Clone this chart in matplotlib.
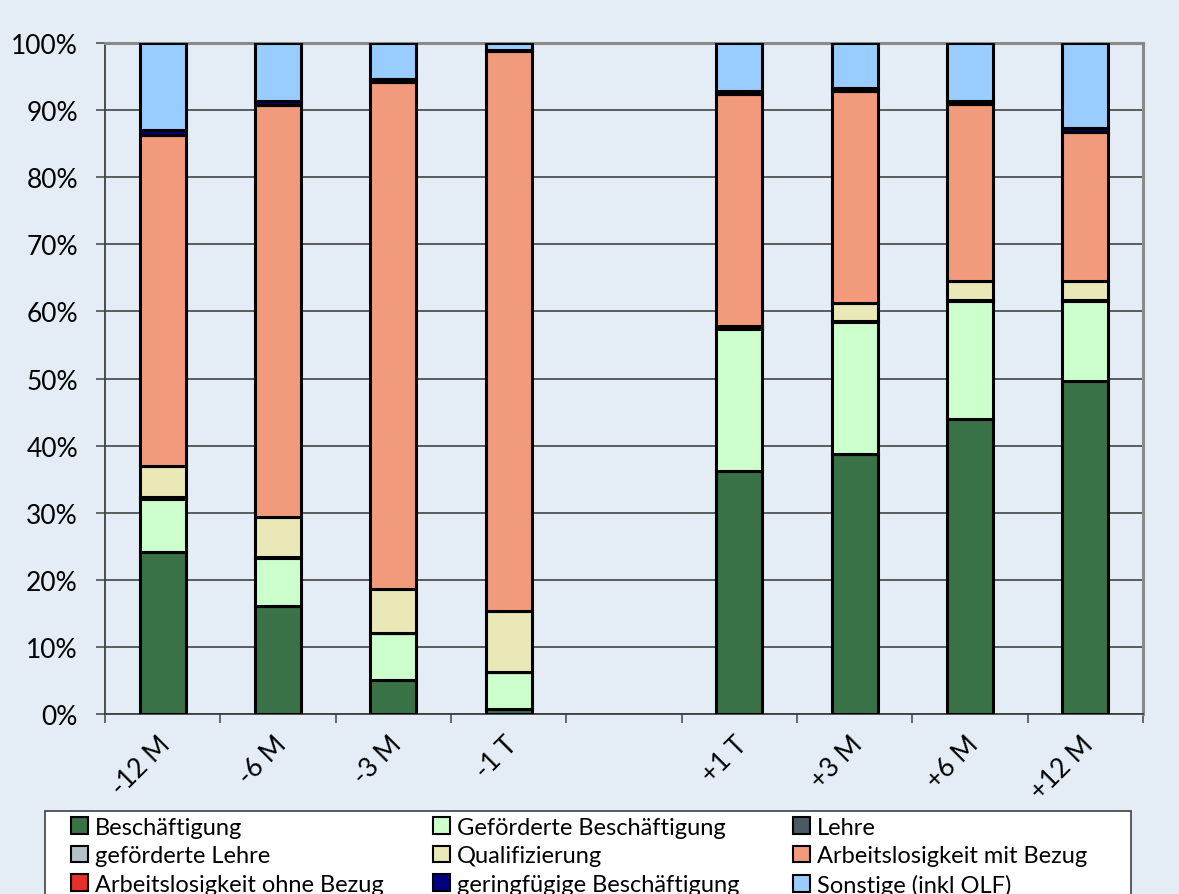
import numpy as np
import matplotlib
matplotlib.use("Agg")
import matplotlib.pyplot as plt
from matplotlib.ticker import FuncFormatter, FixedLocator
from matplotlib.patches import Rectangle, Patch
from matplotlib.transforms import ScaledTranslation

plt.rcParams['font.family'] = ['Lato', 'DejaVu Sans']

# time points, the empty slot separates before/after
perioden = ['-12 M', '-6 M', '-3 M', '-1 T', '', '+1 T', '+3 M', '+6 M', '+12 M']

# shares in percent per status
beschaeftigung = [24.1, 16.1, 5.0, 0.7, np.nan, 36.2, 38.7, 43.9, 49.6]
gef_beschaeftigung = [8.0, 7.2, 7.0, 5.5, np.nan, 21.2, 19.7, 17.7, 12.0]
lehre = [0.2, 0.1, 0.1, 0.0, np.nan, 0.1, 0.1, 0.1, 0.1]
gef_lehre = [0.0, 0.0, 0.0, 0.0, np.nan, 0.0, 0.0, 0.0, 0.0]
qualifizierung = [4.7, 6.0, 6.5, 9.1, np.nan, 0.3, 2.7, 2.9, 2.8]
al_mit_bezug = [49.3, 61.4, 75.6, 83.5, np.nan, 34.6, 31.6, 26.3, 22.3]
al_ohne_bezug = [0.0, 0.0, 0.0, 0.0, np.nan, 0.0, 0.0, 0.0, 0.0]
geringfuegig = [0.7, 0.6, 0.5, 0.2, np.nan, 0.5, 0.5, 0.5, 0.6]
sonstige = [13.0, 8.6, 5.3, 1.0, np.nan, 7.1, 6.7, 8.6, 12.6]

serien = [
    ('Beschäftigung', beschaeftigung, '#3a7248'),
    ('Geförderte Beschäftigung', gef_beschaeftigung, '#ccffcc'),
    ('Lehre', lehre, '#4a5a62'),
    ('geförderte Lehre', gef_lehre, '#b4c0c8'),
    ('Qualifizierung', qualifizierung, '#e9e8b6'),
    ('Arbeitslosigkeit mit Bezug', al_mit_bezug, '#f29b7c'),
    ('Arbeitslosigkeit ohne Bezug', al_ohne_bezug, '#e8302a'),
    ('geringfügige Beschäftigung', geringfuegig, '#000080'),
    ('Sonstige (inkl OLF)', sonstige, '#99ccff'),
]

bg = '#e4edf5'
fig = plt.figure(figsize=(11.79, 8.95), dpi=100, facecolor=bg)
ax = fig.add_axes([0.0891, 0.2011, 0.8804, 0.7497])
ax.set_facecolor(bg)

x = np.arange(len(perioden))
unten = np.zeros(len(perioden))
for name, werte, farbe in serien:
    werte = np.array(werte, dtype=float)
    ax.bar(x, werte, 0.4, bottom=unten, color=farbe, edgecolor='black',
           linewidth=2.2, zorder=3)
    unten = unten + werte

ax.set_xlim(-0.5, len(perioden) - 0.5)
ax.set_ylim(0, 100)
ax.yaxis.set_major_locator(FixedLocator(np.arange(0, 101, 10)))
ax.yaxis.set_major_formatter(FuncFormatter(lambda v, p: f'{v:.0f}%'))
ax.grid(axis='y', color='#505050', linewidth=1.3, zorder=0)
ax.tick_params(axis='y', labelsize=19, length=6.5, width=1.2, color='#505050', pad=13)

# category labels centred, tick marks between categories
ax.set_xticks(x)
ax.set_xticklabels(perioden, rotation=45, ha='right', va='center',
                   rotation_mode='anchor', fontsize=19)
ax.tick_params(axis='x', which='major', length=0, pad=19)
verschub = ScaledTranslation(4 / 100, 0, fig.dpi_scale_trans)
for lbl in ax.get_xticklabels():
    lbl.set_transform(lbl.get_transform() + verschub)
ax.set_xticks(np.arange(-0.5, len(perioden)), minor=True)
ax.tick_params(axis='x', which='minor', length=6.5, width=1.2, color='#505050')

for s in ['left', 'bottom']:
    ax.spines[s].set_color('#404040')
    ax.spines[s].set_linewidth(1.3)
for s in ['top', 'right']:
    ax.spines[s].set_color('#8a8a8a')
    ax.spines[s].set_linewidth(2.2)

# legend box with three columns, filled row by row
fig.patches.append(Rectangle((45 / 1179, -0.05), 1086 / 1179, 0.05 + 83 / 895,
                             transform=fig.transFigure, facecolor='white',
                             edgecolor='#404040', linewidth=1.2, zorder=1))
spalten_x = [66 / 1179, 428 / 1179, 788 / 1179]
for k, sx in enumerate(spalten_x):
    eintraege = [serien[k], serien[k + 3], serien[k + 6]]
    griffe = [Patch(facecolor=f, edgecolor='black', linewidth=1.5) for _, _, f in eintraege]
    leg = fig.legend(griffe, [n for n, _, _ in eintraege], loc='upper left',
                     bbox_to_anchor=(sx, 1 - 813 / 895), frameon=False, fontsize=17,
                     handlelength=0.72, handleheight=0.72, handletextpad=0.3,
                     labelspacing=0.32, borderpad=0.2, borderaxespad=0)
    leg.set_zorder(2)

fig.savefig('out.png', dpi=100, facecolor=bg)
